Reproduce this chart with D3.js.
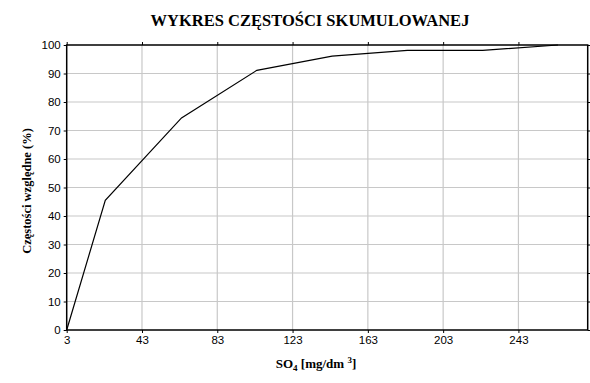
<!DOCTYPE html>
<html>
<head>
<meta charset="utf-8">
<script src="https://cdn.jsdelivr.net/npm/d3@7"></script>
<style>
  body { margin: 0; background: #fff; }
  svg { display: block; }
</style>
</head>
<body>
<div id="chart"></div>
<script>
// Data
var so4Values = [3, 23.5, 64, 104, 144, 184, 224, 264];
var cumPercent = [0, 45.5, 74.4, 91.1, 96.1, 98.1, 98.1, 100];
var xTickValues = [3, 43, 83, 123, 163, 203, 243];
var yTickValues = [0, 10, 20, 30, 40, 50, 60, 70, 80, 90, 100];

var svgWidth = 590;
var svgHeight = 383;

var margin = { top: 45, right: 2.3, bottom: 53, left: 66.7 };
var chartWidth = svgWidth - margin.left - margin.right;
var chartHeight = svgHeight - margin.top - margin.bottom;

var svg = d3.select('#chart')
    .append('svg')
    .attr('width', svgWidth)
    .attr('height', svgHeight);

var chartGroup = svg.append('g')
    .attr('transform', `translate(${margin.left}, ${margin.top})`);

// Scales
var xScale = d3.scaleLinear().domain([3, 279.8]).range([0, chartWidth]);
var yScale = d3.scaleLinear().domain([0, 100]).range([chartHeight, 0]);

// Grid
chartGroup.append('g')
    .selectAll('line')
    .data(xTickValues.slice(1))
    .enter()
    .append('line')
    .attr('x1', (d) => xScale(d)).attr('x2', (d) => xScale(d))
    .attr('y1', 0).attr('y2', chartHeight)
    .attr('stroke', '#c8c8c8').attr('stroke-width', 1.2);

chartGroup.append('g')
    .selectAll('line')
    .data(yTickValues.slice(1, -1))
    .enter()
    .append('line')
    .attr('x1', 0).attr('x2', chartWidth)
    .attr('y1', (d) => yScale(d)).attr('y2', (d) => yScale(d))
    .attr('stroke', '#c8c8c8').attr('stroke-width', 1.2);

// Axes
var bottomAxis = d3.axisBottom(xScale).tickValues(xTickValues).tickSize(3).tickPadding(3);
var leftAxis = d3.axisLeft(yScale).tickValues(yTickValues).tickSize(3).tickPadding(3);
var topAxis = d3.axisTop(xScale).tickValues(xTickValues).tickSize(3).tickFormat('');
var rightAxis = d3.axisRight(yScale).tickValues(yTickValues).tickSize(3).tickFormat('');

function styleAxis(g) {
    g.select('.domain').remove();
    g.selectAll('.tick line').attr('stroke', '#000');
    g.selectAll('.tick text')
        .attr('fill', '#000')
        .style('font-family', 'Liberation Sans, Arial, sans-serif')
        .style('font-size', '11.5px');
}

chartGroup.append('g')
    .attr('transform', `translate(0, ${chartHeight})`)
    .call(bottomAxis)
    .call(styleAxis);

chartGroup.append('g')
    .call(leftAxis)
    .call(styleAxis);

chartGroup.append('g')
    .call(topAxis)
    .call(styleAxis);

chartGroup.append('g')
    .attr('transform', `translate(${chartWidth}, 0)`)
    .call(rightAxis)
    .call(styleAxis);

// Frame
chartGroup.append('rect')
    .attr('x', 0).attr('y', 0)
    .attr('width', chartWidth).attr('height', chartHeight)
    .attr('fill', 'none')
    .attr('stroke', '#000')
    .attr('stroke-width', 1.5);

// Cumulative line
var line = d3.line()
    .x((d, i) => xScale(so4Values[i]))
    .y((d) => yScale(d));

chartGroup.append('path')
    .datum(cumPercent)
    .attr('d', line)
    .attr('fill', 'none')
    .attr('stroke', '#000')
    .attr('stroke-width', 1.2);

// Title and labels
svg.append('text')
    .attr('x', 310)
    .attr('y', 26)
    .attr('text-anchor', 'middle')
    .style('font-family', 'Liberation Serif, Times New Roman, serif')
    .style('font-weight', 'bold')
    .style('font-size', '16.5px')
    .text('WYKRES CZĘSTOŚCI SKUMULOWANEJ');

var xLabel = svg.append('text')
    .attr('x', 316)
    .attr('y', 368)
    .attr('text-anchor', 'middle')
    .style('font-family', 'Liberation Serif, Times New Roman, serif')
    .style('font-weight', 'bold')
    .style('font-size', '13px');
xLabel.append('tspan').text('SO');
xLabel.append('tspan').attr('dy', 3).style('font-size', '9px').text('4');
xLabel.append('tspan').attr('dy', -3).text(' [mg/dm ');
xLabel.append('tspan').attr('dy', -5).style('font-size', '9px').text('3');
xLabel.append('tspan').attr('dy', 5).text(']');

svg.append('text')
    .attr('transform', 'translate(31, 191) rotate(-90)')
    .attr('text-anchor', 'middle')
    .style('font-family', 'Liberation Serif, Times New Roman, serif')
    .style('font-weight', 'bold')
    .style('font-size', '12.5px')
    .text('Częstości względne (%)');
</script>
</body>
</html>
